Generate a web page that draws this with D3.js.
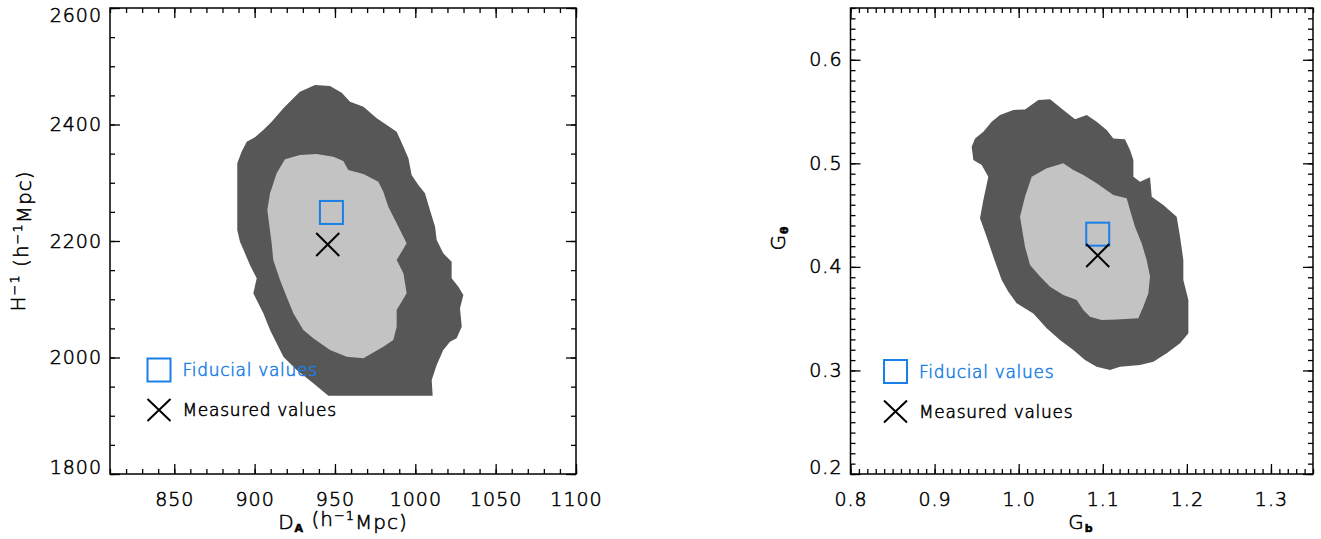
<!DOCTYPE html>
<html><head><meta charset="utf-8">
<script src="https://cdn.jsdelivr.net/npm/d3@7"></script>
<style>
body{margin:0;background:#fff;}
text{font-family:"DejaVu Sans",sans-serif;font-weight:200;fill:#000;stroke:#000;stroke-width:0.55px;}
text.blue{fill:#1a7fe6;stroke:#1a7fe6;}
</style></head>
<body><svg id="c" width="1321" height="539"></svg>
<script>
// ---------- data ----------
const leftXTicks = [850, 900, 950, 1000, 1050, 1100];
const leftYTicks = [1800, 2000, 2200, 2400, 2600];
const rightXTicks = [0.8, 0.9, 1.0, 1.1, 1.2, 1.3];
const rightYTicks = [0.2, 0.3, 0.4, 0.5, 0.6];

// 2-sigma (dark) and 1-sigma (light) regions, D_A vs H^-1
const leftOuter = [[928.2,2456.4],[937.6,2467.8],[946.9,2466.1],[954.2,2454.6],[959.4,2439.2],[967.7,2430.6],[976.0,2410.6],[982.2,2399.1],[988.4,2387.7],[992.6,2361.9],[995.7,2341.9],[997.7,2313.3],[1001.9,2296.1],[1006.0,2281.8],[1009.1,2253.2],[1012.3,2224.6],[1013.3,2201.7],[1017.4,2178.8],[1022.6,2164.5],[1022.6,2135.9],[1026.8,2121.6],[1029.9,2107.3],[1027.8,2084.4],[1028.9,2052.9],[1025.7,2032.9],[1021.6,2027.2],[1017.4,2012.9],[1013.3,1987.1],[1010.2,1961.4],[1010.8,1934.5],[945.9,1934.5],[936.5,1955.7],[926.2,1978.5],[917.9,2001.4],[913.7,2024.3],[909.6,2047.2],[905.4,2075.8],[902.3,2093.0],[899.2,2110.2],[901.3,2135.9],[897.1,2158.8],[894.0,2178.8],[890.9,2198.9],[889.2,2218.9],[889.2,2333.3],[891.9,2353.4],[895.1,2370.5],[900.2,2378.0],[905.4,2390.6],[910.6,2404.9],[917.9,2427.8],[924.1,2444.9]];
const leftInner = [[918.9,2340.2],[928.2,2347.6],[938.6,2349.4],[949.0,2344.8],[955.2,2337.3],[958.3,2321.9],[967.7,2315.0],[977.0,2301.9],[980.1,2284.7],[983.2,2258.9],[988.4,2230.3],[994.6,2196.0],[988.4,2167.4],[992.6,2144.5],[994.6,2110.2],[988.4,2081.5],[988.4,2052.9],[986.3,2030.0],[980.1,2018.6],[967.7,1998.6],[957.3,2001.4],[946.9,2012.9],[936.5,2032.9],[930.3,2047.2],[924.1,2075.8],[919.9,2104.4],[915.8,2133.0],[911.6,2167.4],[910.6,2196.0],[907.9,2253.2],[909.6,2281.8],[913.7,2316.2]];
// G_b vs G_theta
const rightOuter = [[0.9481,0.5241],[0.9580,0.5306],[0.9679,0.5402],[0.9778,0.5467],[0.9937,0.5515],[1.0075,0.5521],[1.0234,0.5612],[1.0373,0.5618],[1.0531,0.5515],[1.0670,0.5425],[1.0809,0.5467],[1.0927,0.5402],[1.1046,0.5322],[1.1126,0.5241],[1.1264,0.5232],[1.1324,0.5129],[1.1364,0.5032],[1.1364,0.4871],[1.1443,0.4823],[1.1562,0.4865],[1.1582,0.4678],[1.1720,0.4598],[1.1879,0.4485],[1.1919,0.4292],[1.1958,0.4067],[1.1958,0.3873],[1.2018,0.3680],[1.2018,0.3358],[1.1919,0.3262],[1.1760,0.3165],[1.1601,0.3085],[1.1443,0.3053],[1.1205,0.3036],[1.1086,0.3004],[1.0927,0.3036],[1.0789,0.3101],[1.0650,0.3197],[1.0491,0.3294],[1.0333,0.3407],[1.0174,0.3551],[0.9976,0.3648],[0.9877,0.3761],[0.9798,0.3873],[0.9699,0.4099],[0.9619,0.4292],[0.9540,0.4469],[0.9580,0.4646],[0.9639,0.4871],[0.9560,0.4984],[0.9461,0.5032],[0.9441,0.5161]];
const rightInner = [[1.0155,0.4871],[1.0333,0.4952],[1.0531,0.5000],[1.0650,0.4936],[1.0769,0.4887],[1.0927,0.4807],[1.1126,0.4694],[1.1284,0.4662],[1.1324,0.4549],[1.1383,0.4388],[1.1463,0.4227],[1.1522,0.4067],[1.1562,0.3906],[1.1542,0.3745],[1.1482,0.3616],[1.1423,0.3503],[1.1165,0.3493],[1.0987,0.3487],[1.0848,0.3519],[1.0769,0.3584],[1.0690,0.3680],[1.0531,0.3729],[1.0373,0.3809],[1.0254,0.3906],[1.0135,0.4018],[1.0075,0.4195],[1.0016,0.4485],[1.0075,0.4678]];

const leftFiducial = [947.8, 2249];
const leftMeasured = [945.5, 2194];
const rightFiducial = [1.094, 0.4316];
const rightMeasured = [1.094, 0.411];
const legendLabels = ["Fiducial values", "Measured values"];

// ---------- drawing ----------
const svg = d3.select("#c");
const BLUE = "#1a7fe6";

function panel(o) {
  const x = d3.scaleLinear().domain(o.xDomain).range([o.x0, o.x1]);
  const y = d3.scaleLinear().domain(o.yDomain).range([o.y1, o.y0]);
  const g = svg.append("g");
  const line = d3.line().x(d => x(d[0])).y(d => y(d[1]));
  g.append("path").attr("d", line(o.outer) + "Z").attr("fill", "#575757");
  g.append("path").attr("d", line(o.inner) + "Z").attr("fill", "#c3c3c3");

  // markers
  const s = 11.5;
  g.append("rect").attr("x", x(o.fid[0]) - s).attr("y", y(o.fid[1]) - s)
    .attr("width", 2*s).attr("height", 2*s).attr("fill", "none")
    .attr("stroke", BLUE).attr("stroke-width", 2);
  const cx = x(o.meas[0]), cy = y(o.meas[1]);
  g.append("path").attr("d", `M${cx-s},${cy-s}L${cx+s},${cy+s}M${cx-s},${cy+s}L${cx+s},${cy-s}`)
    .attr("stroke", "#000").attr("stroke-width", 2);

  // axes (ticks inward on all sides)
  const minX = d3.range(o.xDomain[0], o.xDomain[1] + o.xMinor/2, o.xMinor);
  const minY = d3.range(o.yDomain[0], o.yDomain[1] + o.yMinor/2, o.yMinor);
  const ax = (gen, scale, vals, size, fmt, tr, pad) => {
    const a = svg.append("g").attr("transform", tr)
      .call(gen(scale).tickValues(vals).tickSize(-size).tickPadding(pad).tickFormat(fmt || ""));
    a.select(".domain").remove();
    a.attr("font-family", null).attr("font-size", null).attr("fill", null);
    a.selectAll("line").attr("stroke", "#000").attr("stroke-width", 1.3);
    a.selectAll("text").style("font-size", "19px").style("letter-spacing", "1px").attr("fill", null);
    return a;
  };
  ax(d3.axisBottom, x, o.xTicks, 10, o.fmtX, `translate(0,${o.y1})`, 19);
  ax(d3.axisBottom, x, minX, 5, null, `translate(0,${o.y1})`, 0);
  ax(d3.axisTop, x, o.xTicks, 10, null, `translate(0,${o.y0})`, 0);
  ax(d3.axisTop, x, minX, 5, null, `translate(0,${o.y0})`, 0);
  const left = ax(d3.axisLeft, y, o.yTicks, 10, o.fmtY, `translate(${o.x0},0)`, 8);
  ax(d3.axisLeft, y, minY, 5, null, `translate(${o.x0},0)`, 0);
  ax(d3.axisRight, y, o.yTicks, 10, null, `translate(${o.x1},0)`, 0);
  ax(d3.axisRight, y, minY, 5, null, `translate(${o.x1},0)`, 0);
  // keep end labels inside the frame height
  left.selectAll(".tick").each(function(d) {
    const py = y(d);
    const t = d3.select(this).select("text");
    if (py - o.y0 < 6) t.attr("y", 7);
    if (o.y1 - py < 6) t.attr("y", -7);
  });

  svg.append("rect").attr("x", o.x0).attr("y", o.y0)
    .attr("width", o.x1 - o.x0).attr("height", o.y1 - o.y0)
    .attr("fill", "none").attr("stroke", "#000").attr("stroke-width", 1.5);

  // legend
  const lg = svg.append("g");
  lg.append("rect").attr("x", o.leg[0]).attr("y", o.leg[1] - 11.5).attr("width", 23).attr("height", 23)
    .attr("fill", "none").attr("stroke", BLUE).attr("stroke-width", 2);
  lg.append("text").attr("class", "blue").attr("x", o.leg[0] + 35).attr("y", o.leg[1]).attr("dy", "0.36em")
    .style("font-size", "17px").style("letter-spacing", "0.7px").text(legendLabels[0]);
  const lx = o.leg[0], ly = o.leg[1] + 40;
  lg.append("path").attr("d", `M${lx},${ly-11}L${lx+23},${ly+11}M${lx},${ly+11}L${lx+23},${ly-11}`)
    .attr("stroke", "#000").attr("stroke-width", 2);
  lg.append("text").attr("x", lx + 35).attr("y", ly).attr("dy", "0.36em")
    .style("font-size", "17px").style("letter-spacing", "0.7px").text(legendLabels[1]);
}

panel({x0: 110, x1: 576, y0: 8, y1: 474,
  xDomain: [810, 1100], yDomain: [1800, 2600], xMinor: 10, yMinor: 50,
  xTicks: leftXTicks, yTicks: leftYTicks, fmtX: d3.format("d"), fmtY: d3.format("d"),
  outer: leftOuter, inner: leftInner, fid: leftFiducial, meas: leftMeasured,
  leg: [147.5, 370]});

panel({x0: 850.5, x1: 1313, y0: 8, y1: 474,
  xDomain: [0.8, 1.35], yDomain: [0.2, 0.65], xMinor: 0.01, yMinor: 0.01,
  xTicks: rightXTicks, yTicks: rightYTicks, fmtX: d3.format(".1f"), fmtY: d3.format(".1f"),
  outer: rightOuter, inner: rightInner, fid: rightFiducial, meas: rightMeasured,
  leg: [884, 371.5]});

// axis titles
function title(x, y, rot, parts) {
  const t = svg.append("text").attr("transform", `translate(${x},${y}) rotate(${rot})`)
    .attr("text-anchor", "middle").style("font-size", "20px").style("letter-spacing", "1px");
  parts.forEach(p => {
    const ts = t.append("tspan").text(p[0]);
    if (p[1] === "sup") ts.attr("dy", "-0.45em").style("font-size", "13px");
    if (p[1] === "sub") ts.attr("dy", "0.3em").style("font-size", "11px").style("font-weight", "700");
    if (p[2]) ts.attr("dy", p[2]);
  });
}
title(343, 529, 0, [["D"], ["A", "sub"], [" (h", null, "-0.3em"], ["−1", "sup"], ["Mpc)", null, "0.45em"]]);
title(25, 241, -90, [["H"], ["−1", "sup"], [" (h", null, "0.45em"], ["−1", "sup"], ["Mpc)", null, "0.45em"]]);
title(1081, 529, 0, [["G"], ["b", "sub"]]);
title(785, 238, -90, [["G"], ["θ", "sub"]]);
</script></body></html>
